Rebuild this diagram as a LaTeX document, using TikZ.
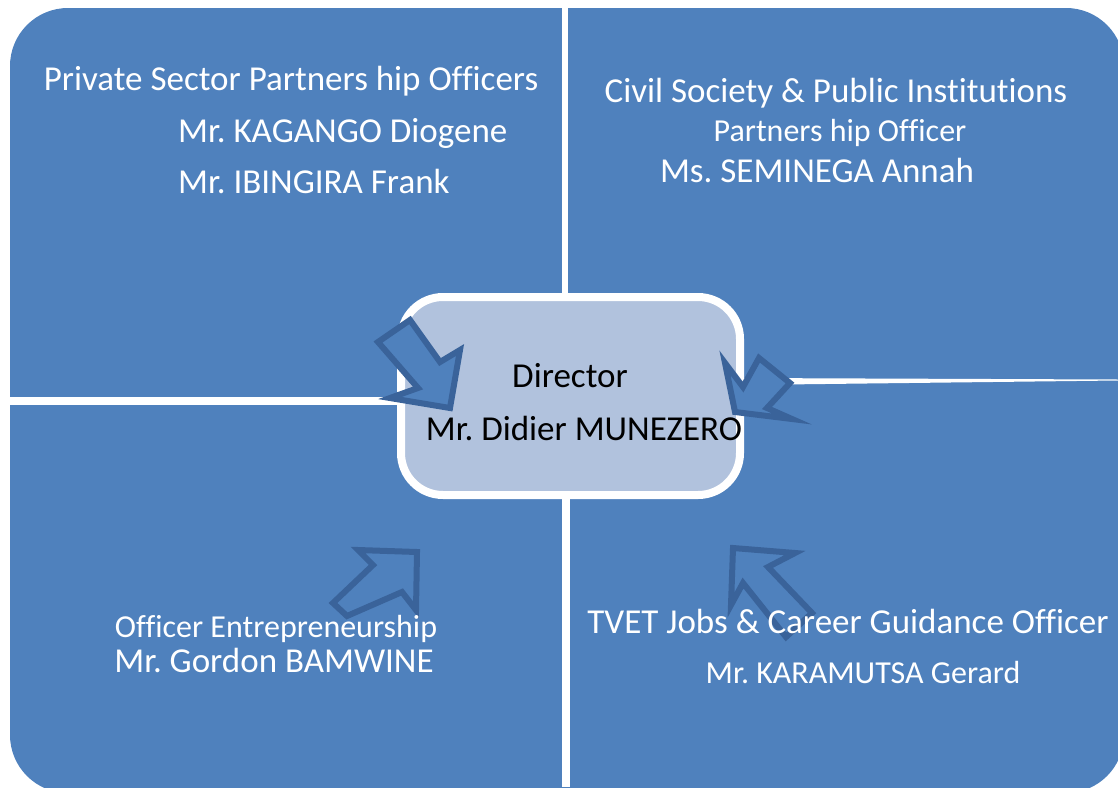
\documentclass[tikz,border=0pt]{standalone}
\usepackage{fontspec}
\setmainfont{Carlito}[Ligatures={NoCommon}]
\usepackage{tikz}
\usetikzlibrary{
    calc,
    arrows
}
\definecolor{quadblue}{HTML}{4F81BD}
\definecolor{arrowedge}{HTML}{3A639A}
\definecolor{boxfill}{HTML}{B1C2DD}
\tikzset{
    quadtext/.style={text=white, font=\fontsize{35}{37}\selectfont, anchor=base, inner sep=0pt},
    quadsmall/.style={quadtext, font=\fontsize{32}{34}\selectfont},
    blockarrow/.style={fill=quadblue, draw=arrowedge, line width=6pt, line join=miter}
}
\frenchspacing

\begin{document}
\begin{tikzpicture}[x=1pt, y=-1pt]
        \useasboundingbox (0,0) rectangle (1118,787);
        \clip (0,0) rectangle (1118,787);

        % quadrants and the white gaps
        \fill[quadblue, rounded corners=58pt] (10,8) rectangle (1124,793);
        \draw[white, line width=6pt] (565,0) -- (565,300);
        \draw[white, line width=8pt] (566,490) -- (566,787);
        \draw[white, line width=8pt] (0,401) -- (402,401);
        \fill[white] (741,378) -- (1118,379.5) -- (1118,380.5) -- (741,385) -- cycle;

        % director box
        \draw[fill=boxfill, draw=white, line width=8pt, rounded corners=42pt]
            (401,297) rectangle (740,495);
        \draw (570,387) node[quadtext, text=black](dir){Director};
        \draw (584,440) node[quadtext, text=black](dname){Mr. Didier MUNEZERO};

        % arrows pointing to the director
        \draw[blockarrow] (450,408) -- (460,350) -- (440,362) -- (410,320)
            -- (378,342) -- (418,388) -- (390,398) -- cycle;
        \draw[blockarrow] (735,412) -- (792,419) -- (767,408) -- (790,383)
            -- (759,358) -- (743,387) -- (725,363) -- cycle;
        \draw[blockarrow] (417,552) -- (358,550) -- (373,565) -- (333,603)
            -- (347,616) -- (402,592) -- (416,610) -- cycle;
        \draw[blockarrow] (733,548) -- (795,553) -- (768,567) -- (812,613)
            -- (786,637) -- (743,583) -- (731,605) -- cycle;

        % private sector
        \draw (291,90) node[quadtext](pso){Private Sector Partners hip Officers};
        \draw (178,142) node[quadtext, anchor=base west](kag){Mr. KAGANGO Diogene};
        \draw (178,193) node[quadtext, anchor=base west](ibi){Mr. IBINGIRA Frank};

        % civil society
        \draw (836,102) node[quadtext](civ){Civil Society \& Public Institutions};
        \draw (840,141) node[quadsmall](cpo){Partners hip Officer};
        \draw (817,182) node[quadtext](sem){Ms. SEMINEGA Annah};

        % entrepreneurship
        \draw (276,637) node[quadsmall](ent){Officer Entrepreneurship};
        \draw (274,672) node[quadtext](bam){Mr. Gordon BAMWINE};

        % tvet
        \draw (848,633) node[quadtext](tvet){TVET Jobs \& Career Guidance Officer};
        \draw (863,683) node[quadsmall](kar){Mr. KARAMUTSA Gerard};
    \end{tikzpicture}
\end{document}
